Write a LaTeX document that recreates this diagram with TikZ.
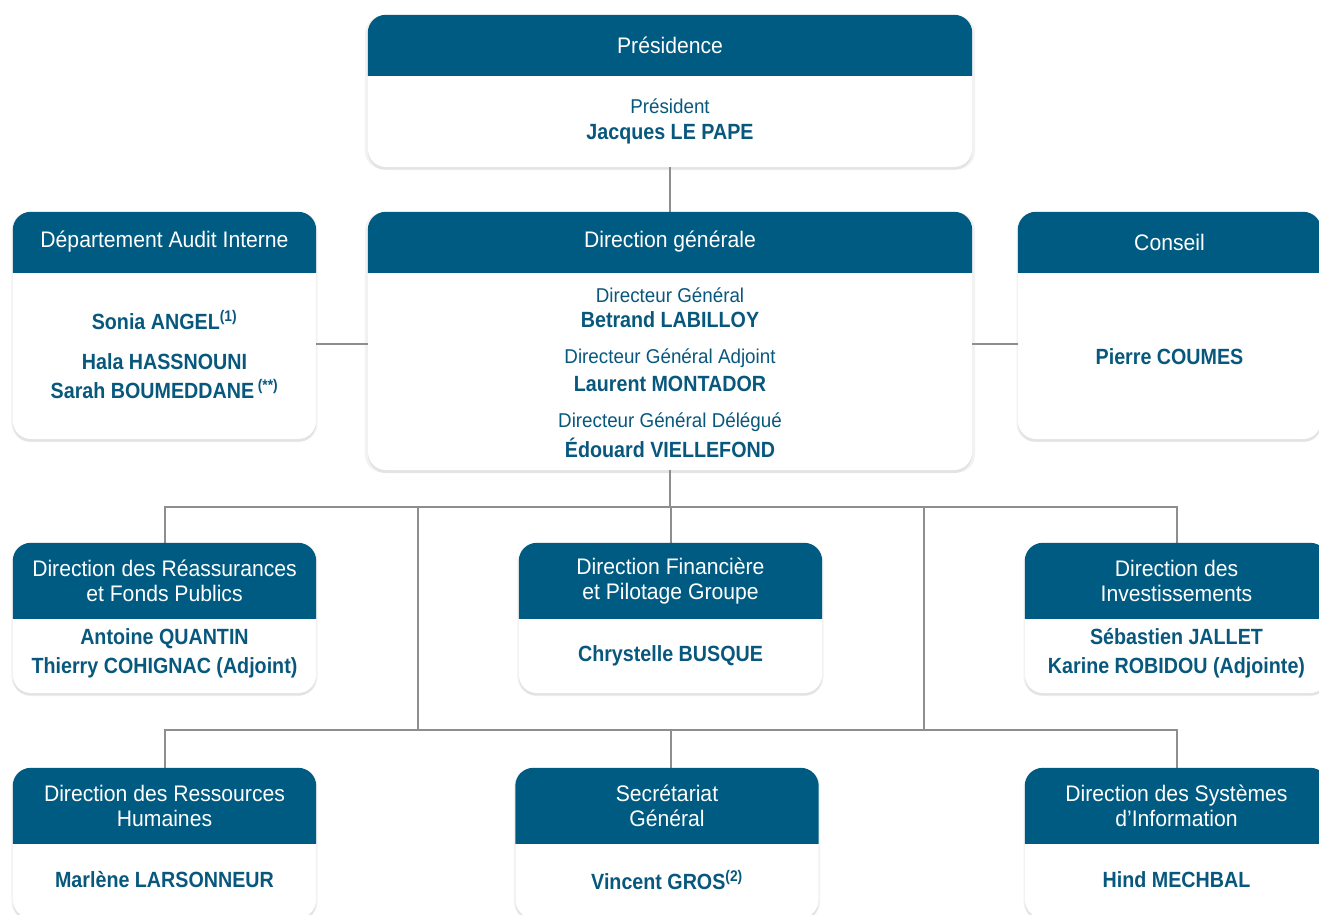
\documentclass[tikz,border=0pt]{standalone}
\usepackage{fontspec}
\setmainfont{Liberation Sans}[FakeStretch=0.94,BoldFeatures={FakeStretch=0.895}]
\usetikzlibrary{shadows}
\definecolor{hdr}{RGB}{0,91,130}
\definecolor{ink}{RGB}{8,88,126}
\definecolor{conn}{RGB}{142,142,142}
\tikzset{
  card/.style={rectangle, rounded corners=18pt, fill=white, inner sep=0pt,
    drop shadow={shadow xshift=0pt, shadow yshift=-3pt, opacity=0.06, fill=black},
    drop shadow={shadow xshift=0pt, shadow yshift=-1.5pt, shadow scale=1.01, opacity=0.05, fill=black}},
  conn/.style={draw=conn, line width=2pt},
  htext/.style={text=white, align=center, font=\fontsize{22.5}{25}\selectfont, inner sep=0pt},
  btext/.style={text=ink, align=center, font=\fontsize{22}{29}\selectfont\bfseries, inner sep=0pt},
  rtext/.style={text=ink, align=center, font=\fontsize{20}{25}\selectfont, inner sep=0pt},
}
\newcommand{\hdrfill}[2]{%
  \begin{scope}
    \clip (#1.north west) rectangle (#1.east |- 0,#2);
    \fill[hdr, rounded corners=18pt] (#1.north west) rectangle (#1.south east);
  \end{scope}}
\begin{document}
\begin{tikzpicture}[x=1pt,y=-1pt]
\useasboundingbox (0,0) rectangle (1319,914);
\clip (0,0) rectangle (1319,914);
\fill[white] (0,0) rectangle (1319,914);

% bus coordinates
\coordinate (busA) at (0,507);
\coordinate (busB) at (0,730);
\coordinate (v1) at (418,507);
\coordinate (v2) at (924,507);

% cards
\node[card, minimum width=604pt, minimum height=152pt] (pres) at (670,91) {};
\node[card, minimum width=303pt, minimum height=227pt] (audit) at (164.5,325.5) {};
\node[card, minimum width=604pt, minimum height=258pt] (dg) at (670,341) {};
\node[card, minimum width=303pt, minimum height=227pt] (cons) at (1169.5,325.5) {};
\node[card, minimum width=303pt, minimum height=150pt] (reas) at (164.5,618) {};
\node[card, minimum width=303pt, minimum height=150pt] (fin) at (670.5,618) {};
\node[card, minimum width=303pt, minimum height=150pt] (inv) at (1176.5,618) {};
\node[card, minimum width=303pt, minimum height=150pt] (rh) at (164.5,843) {};
\node[card, minimum width=303pt, minimum height=150pt] (sg) at (667,843) {};
\node[card, minimum width=303pt, minimum height=150pt] (si) at (1176.5,843) {};

% connectors
\draw[conn] (pres.south) -- (dg.north);
\draw[conn] (audit.east |- 0,344) -- (dg.west |- 0,344);
\draw[conn] (dg.east |- 0,344) -- (cons.west |- 0,344);
\draw[conn] (dg.south) -- (dg.south |- busA);
\draw[conn] (reas.north) -- (reas.north |- busA) -- (inv.north |- busA) -- (inv.north);
\draw[conn] (fin.north |- busA) -- (fin.north);
\draw[conn] (v1) -- (v1 |- busB);
\draw[conn] (v2) -- (v2 |- busB);
\draw[conn] (rh.north) -- (rh.north |- busB) -- (si.north |- busB) -- (si.north);
\draw[conn] (fin.north |- busB) -- (fin.north |- sg.north);

% headers
\hdrfill{pres}{75}
\hdrfill{audit}{272}
\hdrfill{dg}{272}
\hdrfill{cons}{272}
\hdrfill{reas}{618}
\hdrfill{fin}{618}
\hdrfill{inv}{618}
\hdrfill{rh}{843}
\hdrfill{sg}{843}
\hdrfill{si}{843}

% header texts
\node[htext] (tpres) at (670,45) {Présidence};
\node[htext] (taudit) at (164.5,242) {Département Audit Interne};
\node[htext] (tdg) at (670,242) {Direction générale};
\node[htext] (tcons) at (1169.5,242) {Conseil};
\node[htext] (treas) at (164.5,581) {Direction des Réassurances\\et Fonds Publics};
\node[htext] (tfin) at (670.5,581) {Direction Financière\\et Pilotage Groupe};
\node[htext] (tinv) at (1176.5,581) {Direction des\\Investissements};
\node[htext] (trh) at (164.5,806) {Direction des Ressources\\Humaines};
\node[htext] (tsg) at (667,806) {Secrétariat\\Général};
\node[htext] (tsi) at (1176.5,806) {Direction des Systèmes\\d’Information};

% body texts
\node[rtext] (bpres1) at (670,106) {Président};
\node[btext] (bpres2) at (670,134) {Jacques LE PAPE};

\node[btext] (baud1) at (164.5,320) {Sonia ANGEL\textsuperscript{(1)}};
\node[btext] (baud2) at (164.5,376) {Hala HASSNOUNI\\Sarah BOUMEDDANE\,\textsuperscript{(**)}};

\node[rtext] (bdg1) at (670,295) {Directeur Général};
\node[btext] (bdg2) at (670,320) {Betrand LABILLOY};
\node[rtext] (bdg3) at (670,358) {Directeur Général Adjoint};
\node[btext] (bdg4) at (670,384) {Laurent MONTADOR};
\node[rtext] (bdg5) at (670,422) {Directeur Général Délégué};
\node[btext] (bdg6) at (670,448) {Édouard VIELLEFOND};

\node[btext] (bcons) at (1169.5,357) {Pierre COUMES};

\node[btext] (breas) at (164.5,653.5) {Antoine QUANTIN\\Thierry COHIGNAC (Adjoint)};
\node[btext] (bfin) at (670.5,656) {Chrystelle BUSQUE};
\node[btext] (binv) at (1176.5,653.5) {Sébastien JALLET\\Karine ROBIDOU (Adjointe)};

\node[btext] (brh) at (164.5,880) {Marlène LARSONNEUR};
\node[btext] (bsg) at (667,880) {Vincent GROS\textsuperscript{(2)}};
\node[btext] (bsi) at (1176.5,880) {Hind MECHBAL};
\end{tikzpicture}
\end{document}
